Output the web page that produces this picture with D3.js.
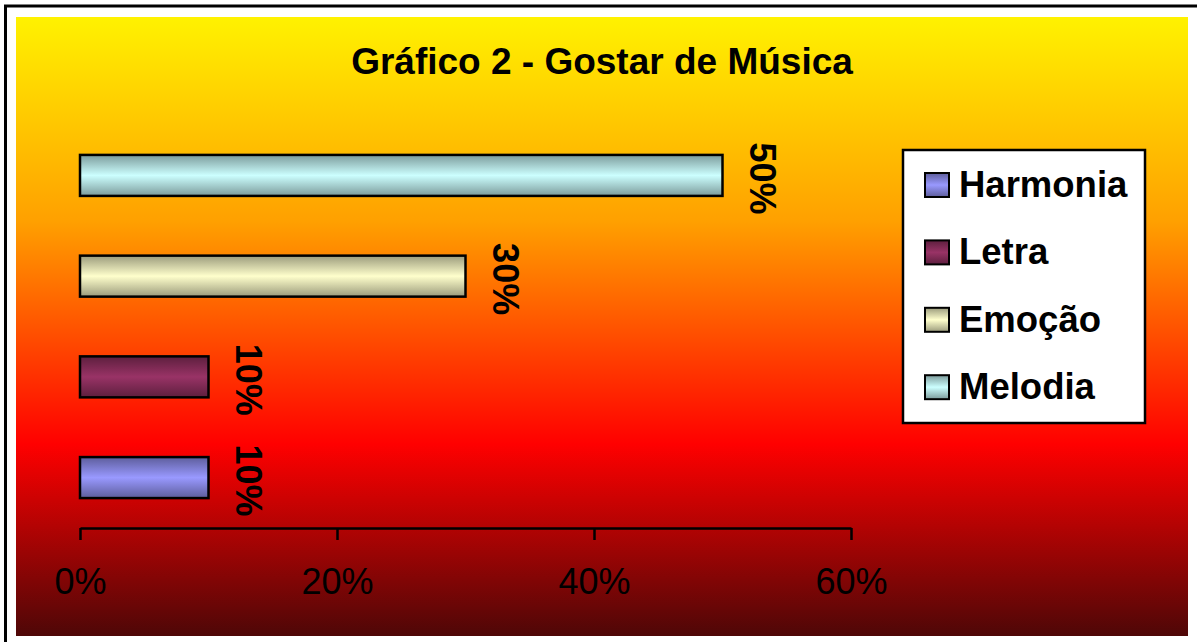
<!DOCTYPE html>
<html>
<head>
<meta charset="utf-8">
<script src="https://cdn.jsdelivr.net/npm/d3@7"></script>
<style>
  body { margin: 0; background: #fff; }
  text { font-family: "Liberation Sans", Arial, sans-serif; }
</style>
</head>
<body>
<div id="chart"></div>
<script>
// data
var categories = ["Harmonia", "Letra", "Emoção", "Melodia"];
var values = [10, 10, 30, 50];
var colors = ["#9999FF", "#993366", "#FFFFCC", "#CCFFFF"];
var xTicks = [0, 20, 40, 60];
var title = "Gráfico 2 - Gostar de Música";

var Width = 1197, Height = 642;

var svg = d3.select("#chart").append("svg")
  .attr("width", Width)
  .attr("height", Height);

var defs = svg.append("defs");

// background gradient yellow -> orange -> red -> dark red
var bg = defs.append("linearGradient")
  .attr("id", "bgGrad")
  .attr("x1", 0).attr("y1", 0).attr("x2", 0).attr("y2", 1);
bg.append("stop").attr("offset", "0%").attr("stop-color", "#FFF200");
bg.append("stop").attr("offset", "33%").attr("stop-color", "#FFA000");
bg.append("stop").attr("offset", "69%").attr("stop-color", "#FF0000");
bg.append("stop").attr("offset", "100%").attr("stop-color", "#4E0707");

// bar gradients: dark edges, light center
categories.forEach(function(c, i) {
  var g = defs.append("linearGradient")
    .attr("id", "barGrad" + i)
    .attr("x1", 0).attr("y1", 0).attr("x2", 0).attr("y2", 1);
  var dark = d3.color(colors[i]).darker(1.4).formatHex();
  g.append("stop").attr("offset", "0%").attr("stop-color", dark);
  g.append("stop").attr("offset", "50%").attr("stop-color", colors[i]);
  g.append("stop").attr("offset", "100%").attr("stop-color", dark);
});

// outer frame
svg.append("rect")
  .attr("x", 5.5).attr("y", 6)
  .attr("width", 1210).attr("height", 660)
  .attr("fill", "#fff")
  .attr("stroke", "#000")
  .attr("stroke-width", 3);

svg.append("rect")
  .attr("x", 16).attr("y", 17)
  .attr("width", 1172).attr("height", 619)
  .attr("fill", "url(#bgGrad)");

// title
svg.append("text")
  .attr("x", 602).attr("y", 74)
  .attr("text-anchor", "middle")
  .style("font-size", "37px")
  .style("font-weight", "bold")
  .text(title);

// scales
var x = d3.scaleLinear()
  .domain([0, 60])
  .range([80, 851]);

var y = d3.scaleBand()
  .domain(categories.slice().reverse())
  .range([125, 528])
  .paddingInner(0.593)
  .paddingOuter(0.297);

// axis
var xAxis = svg.append("g")
  .attr("transform", "translate(0,528)")
  .call(d3.axisBottom(x)
    .tickValues(xTicks)
    .tickFormat(function(d) { return d + "%"; })
    .tickSize(12)
    .tickSizeOuter(0)
    .tickPadding(28));
xAxis.select(".domain").attr("stroke", "#000").attr("stroke-width", 2.5);
xAxis.selectAll(".tick line").attr("stroke", "#000").attr("stroke-width", 2.5);
xAxis.selectAll(".tick text")
  .attr("fill", "#000")
  .style("font-family", "'Liberation Sans', Arial, sans-serif")
  .style("font-size", "36px");

// bars
svg.append("g")
  .selectAll("rect")
  .data(categories)
  .enter()
  .append("rect")
    .attr("x", x(0))
    .attr("y", function(d) { return y(d); })
    .attr("width", function(d, i) { return x(values[i]) - x(0); })
    .attr("height", y.bandwidth())
    .attr("fill", function(d, i) { return "url(#barGrad" + i + ")"; })
    .attr("stroke", "#000")
    .attr("stroke-width", 2.5);

// rotated value labels
svg.append("g")
  .selectAll("text")
  .data(categories)
  .enter()
  .append("text")
    .attr("transform", function(d, i) {
      return "translate(" + (x(values[i]) + 27) + "," + (y(d) + y.bandwidth() / 2 + 3) + ") rotate(90)";
    })
    .attr("text-anchor", "middle")
    .style("font-size", "36px")
    .style("font-weight", "bold")
    .text(function(d, i) { return values[i] + "%"; });

// legend
var legend = svg.append("g");
legend.append("rect")
  .attr("x", 903).attr("y", 150)
  .attr("width", 242).attr("height", 273)
  .attr("fill", "#fff")
  .attr("stroke", "#000")
  .attr("stroke-width", 2.5);

var items = legend.selectAll(".item")
  .data(categories)
  .enter()
  .append("g")
    .attr("class", "item")
    .attr("transform", function(d, i) { return "translate(0," + (197 + i * 67.4) + ")"; });

items.append("rect")
  .attr("x", 925).attr("y", -24)
  .attr("width", 24).attr("height", 24)
  .attr("fill", function(d, i) { return "url(#barGrad" + i + ")"; })
  .attr("stroke", "#000")
  .attr("stroke-width", 2);

items.append("text")
  .attr("x", 959).attr("y", 0)
  .style("font-size", "36.5px")
  .style("font-weight", "bold")
  .text(function(d) { return d; });
</script>
</body>
</html>
